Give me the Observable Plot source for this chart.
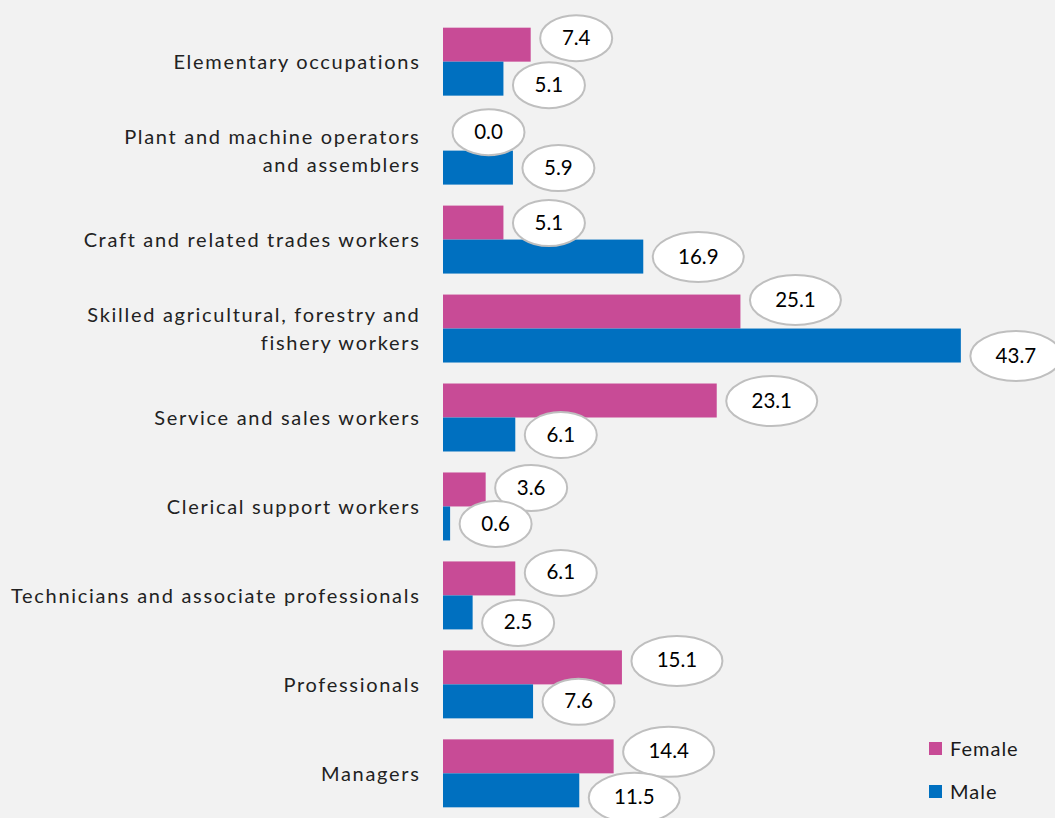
<!DOCTYPE html>
<html><head><meta charset="utf-8">
<script src="https://cdn.jsdelivr.net/npm/d3@7"></script>
<script src="https://cdn.jsdelivr.net/npm/@observablehq/plot@0.6"></script>
<style>
html,body{margin:0;padding:0;background:#f2f2f2;}
#wrap{position:relative;width:1055px;height:818px;overflow:hidden;background:#f2f2f2;}
.lg{position:absolute;left:929px;font:20px Lato,sans-serif;letter-spacing:1px;color:#1a1a1a;display:flex;align-items:center;}
.lg span.sw{display:inline-block;width:13px;height:13px;margin-right:8px;}
</style></head><body><div id="wrap"></div>
<script>
const categories = [
  "Elementary occupations",
  "Plant and machine operators\nand assemblers",
  "Craft and related trades workers",
  "Skilled agricultural, forestry and\nfishery workers",
  "Service and sales workers",
  "Clerical support workers",
  "Technicians and associate professionals",
  "Professionals",
  "Managers"
];
const female = [7.4, 0.0, 5.1, 25.1, 23.1, 3.6, 6.1, 15.1, 14.4];
const male = [5.1, 5.9, 16.9, 43.7, 6.1, 0.6, 2.5, 7.6, 11.5];
const series = ["Female", "Male"];
const colors = ["#c84b96", "#0070c0"];
// label nudges (pixels), style only
const femaleNudge = [-7, -2, 0, -12, 0, -2, -6, -7, -5];
const maleNudge = [6, 0, 0, 10, 0, 0, 10, 0, 7];

const rows = categories.flatMap((c, i) => [
  {category: c, sex: "Female", value: female[i], nudge: femaleNudge[i]},
  {category: c, sex: "Male", value: male[i], nudge: maleNudge[i]}
]);
const fmt = d3.format(".1f");

function ellipse(rx, ry) {
  const k = 0.5522847498;
  return {draw(ctx) {
    ctx.moveTo(rx, 0);
    ctx.bezierCurveTo(rx, ry * k, rx * k, ry, 0, ry);
    ctx.bezierCurveTo(-rx * k, ry, -rx, ry * k, -rx, 0);
    ctx.bezierCurveTo(-rx, -ry * k, -rx * k, -ry, 0, -ry);
    ctx.bezierCurveTo(rx * k, -ry, rx, -ry * k, rx, 0);
    ctx.closePath();
  }};
}

const labelMarks = rows.flatMap(d => {
  const t = fmt(d.value);
  const rx = t.length > 3 ? 45.5 : 36;
  const ry = t.length > 3 ? 25 : 23;
  return [
    Plot.dot([d], {x: "value", y: "sex", fy: "category", symbol: ellipse(rx, ry), r: 10,
      fill: "white", stroke: "#bfbfbf", strokeWidth: 2, dx: 9 + rx, dy: d.nudge}),
    Plot.text([d], {x: "value", y: "sex", fy: "category", text: r => fmt(r.value),
      dx: 9 + rx, dy: d.nudge, fontSize: 20.5, fill: "#000", style: "letter-spacing:1.3px"})
  ];
});

const chart = Plot.plot({
  width: 1055,
  height: 818,
  marginLeft: 443,
  marginRight: 19.5,
  marginTop: 17,
  marginBottom: 0,
  style: {fontFamily: "Lato, sans-serif", background: "#f2f2f2", overflow: "visible"},
  x: {domain: [0, 50], axis: null},
  y: {domain: series, padding: 0, axis: null, round: false},
  fy: {domain: categories, paddingInner: 0.236, paddingOuter: 0.12, label: null, round: false},
  color: {domain: series, range: colors},
  marks: [
    Plot.axisFy({anchor: "left", label: null, tickSize: 0, tickPadding: 23, fontSize: 20,
      fill: "#222", lineHeight: 1.4, dy: -2}),
    Plot.barX(rows, {x: "value", y: "sex", fy: "category", fill: "sex"}),
    ...labelMarks
  ]
});
chart.querySelectorAll("g[aria-label='fy-axis tick label'] text").forEach(t => t.style.letterSpacing = "1.7px");
const wrap = document.getElementById("wrap");
wrap.appendChild(chart);
series.forEach((s, i) => {
  const el = document.createElement("div");
  el.className = "lg";
  el.style.top = (736 + i * 43) + "px";
  el.innerHTML = `<span class="sw" style="background:${colors[i]}"></span>${s}`;
  wrap.appendChild(el);
});
</script></body></html>
